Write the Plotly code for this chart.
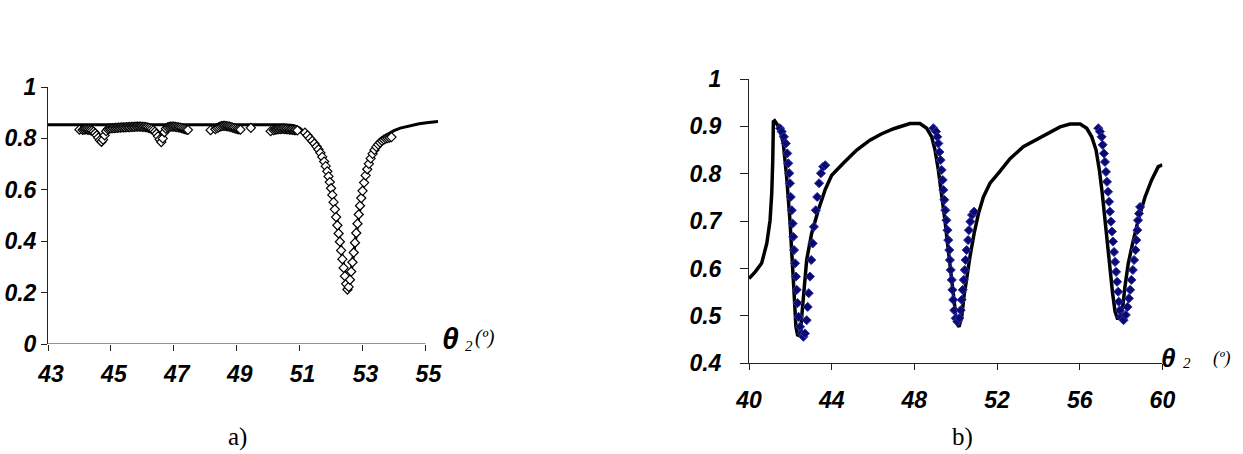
import plotly.graph_objects as go

# ---------------- Panel a) data ----------------
a_line_x = [43.0, 50.5, 50.8, 51.0, 51.2, 51.4, 51.6, 51.8, 51.95, 52.05, 52.15, 52.25, 52.35, 52.45,
            52.52, 52.6, 52.7, 52.8, 52.9, 53.0, 53.1, 53.2, 53.3, 53.45, 53.6, 53.8, 54.0, 54.2,
            54.5, 54.8, 55.1, 55.4]
a_line_y = [0.853, 0.853, 0.850, 0.840, 0.818, 0.792, 0.762, 0.712, 0.656, 0.594, 0.520, 0.434,
            0.346, 0.264, 0.212, 0.250, 0.336, 0.430, 0.522, 0.598, 0.658, 0.704, 0.740, 0.775,
            0.798, 0.816, 0.830, 0.840, 0.850, 0.857, 0.862, 0.866]

a_seg1_x = [44.00, 44.10, 44.15, 44.20, 44.25, 44.30, 44.35, 44.40, 44.45, 44.50, 44.55, 44.60,
            44.65, 44.70, 44.75, 44.80, 44.85, 44.90, 44.95, 45.00, 45.05, 45.10, 45.15, 45.20,
            45.25, 45.30, 45.35, 45.40, 45.45, 45.50, 45.55, 45.60, 45.65, 45.70, 45.75, 45.80,
            45.85, 45.90, 45.95, 46.00, 46.05, 46.10, 46.15, 46.20, 46.25, 46.30, 46.35, 46.40,
            46.45, 46.50, 46.55, 46.60, 46.65, 46.70, 46.75, 46.80, 46.85, 46.90, 46.95, 47.00,
            47.05, 47.10, 47.15, 47.20, 47.25, 47.30, 47.35, 47.40, 47.45]
a_seg1_y = [0.834, 0.833, 0.834, 0.835, 0.834, 0.833, 0.832, 0.830, 0.826, 0.820, 0.812, 0.803,
            0.793, 0.787, 0.795, 0.812, 0.828, 0.836, 0.838, 0.839, 0.840, 0.840, 0.841, 0.841,
            0.842, 0.842, 0.843, 0.843, 0.843, 0.844, 0.844, 0.844, 0.845, 0.845, 0.845, 0.846,
            0.846, 0.846, 0.846, 0.845, 0.845, 0.844, 0.843, 0.841, 0.839, 0.836, 0.832, 0.826,
            0.818, 0.808, 0.796, 0.786, 0.800, 0.824, 0.838, 0.843, 0.845, 0.846, 0.846, 0.846,
            0.845, 0.844, 0.843, 0.842, 0.840, 0.838, 0.836, 0.834, 0.833]

a_seg2_x = [48.17, 48.32, 48.37, 48.42, 48.47, 48.52, 48.57, 48.62, 48.67, 48.72, 48.77, 48.82,
            48.87, 48.92, 48.97, 49.02, 49.07, 49.12, 49.45]
a_seg2_y = [0.832, 0.836, 0.840, 0.843, 0.846, 0.848, 0.849, 0.849, 0.848, 0.847, 0.846, 0.844,
            0.842, 0.840, 0.838, 0.836, 0.835, 0.834, 0.841]

a_seg3_x = [50.08, 50.18, 50.23, 50.28, 50.33, 50.38, 50.43, 50.48, 50.53, 50.58, 50.63, 50.68,
            50.73, 50.78, 50.83, 50.88, 50.93]
a_seg3_y = [0.828, 0.832, 0.834, 0.835, 0.836, 0.836, 0.837, 0.837, 0.836, 0.836, 0.835, 0.834,
            0.834, 0.833, 0.832, 0.832, 0.831]

a_dip_x = [51.17, 51.25, 51.33, 51.40, 51.47, 51.54, 51.60, 51.66, 51.72, 51.78, 51.83, 51.88,
           51.92, 51.96, 52.00, 52.04, 52.08, 52.12, 52.16, 52.20, 52.24, 52.28, 52.32, 52.36,
           52.40, 52.44, 52.48, 52.52, 52.56, 52.60, 52.64, 52.68, 52.72, 52.76, 52.80, 52.84,
           52.88, 52.92, 52.96, 53.00, 53.05, 53.10, 53.15, 53.20, 53.26, 53.32, 53.38, 53.44,
           53.50, 53.56, 53.62, 53.68, 53.74, 53.80, 53.86, 53.92]
a_dip_y = [0.822, 0.812, 0.800, 0.790, 0.780, 0.768, 0.757, 0.744, 0.728, 0.710, 0.692, 0.672,
           0.652, 0.630, 0.606, 0.580, 0.552, 0.524, 0.494, 0.462, 0.430, 0.398, 0.364, 0.330,
           0.296, 0.264, 0.234, 0.212, 0.222, 0.250, 0.282, 0.318, 0.356, 0.394, 0.432, 0.468,
           0.504, 0.538, 0.568, 0.596, 0.628, 0.656, 0.680, 0.701, 0.722, 0.740, 0.755, 0.767,
           0.776, 0.784, 0.790, 0.795, 0.799, 0.801, 0.803, 0.805]

a_xticks = [43, 45, 47, 49, 51, 53, 55]
a_yticks = [0, 0.2, 0.4, 0.6, 0.8, 1]
a_ytext = ["0", "0.2", "0.4", "0.6", "0.8", "1"]

# ---------------- Panel b) data ----------------
b_line_x = [40.00, 40.30, 40.61, 40.86, 41.02, 41.10, 41.15, 41.18, 41.24, 41.31, 41.47, 41.66,
            41.82, 41.98, 42.11, 42.19, 42.27, 42.35, 42.47, 42.55, 42.66, 42.79, 43.03, 43.35,
            43.68, 44.00, 44.56, 45.21, 45.85, 46.40, 47.00, 47.31, 47.79, 48.27, 48.60, 48.84,
            49.00, 49.16, 49.32, 49.48, 49.64, 49.81, 49.93, 50.05, 50.16, 50.29, 50.40, 50.53,
            50.69, 50.89, 51.10, 51.34, 51.66, 52.06, 52.63, 53.27, 54.20, 55.05, 55.53, 56.02,
            56.34, 56.58, 56.79, 56.95, 57.09, 57.22, 57.35, 57.46, 57.59, 57.71, 57.82, 57.95,
            58.08, 58.19, 58.35, 58.56, 58.83, 59.16, 59.48, 59.80, 60.00]
b_line_y = [0.579, 0.593, 0.611, 0.653, 0.702, 0.759, 0.829, 0.910, 0.912, 0.908, 0.897, 0.864,
            0.794, 0.702, 0.618, 0.541, 0.477, 0.460, 0.458, 0.498, 0.562, 0.618, 0.674, 0.723,
            0.766, 0.797, 0.822, 0.850, 0.871, 0.884, 0.895, 0.899, 0.906, 0.906, 0.896, 0.878,
            0.850, 0.808, 0.759, 0.702, 0.639, 0.576, 0.519, 0.484, 0.477, 0.498, 0.541, 0.583,
            0.625, 0.674, 0.716, 0.751, 0.780, 0.801, 0.832, 0.857, 0.880, 0.899, 0.905, 0.905,
            0.896, 0.878, 0.850, 0.808, 0.759, 0.702, 0.646, 0.597, 0.548, 0.509, 0.495, 0.495,
            0.519, 0.562, 0.611, 0.653, 0.702, 0.751, 0.787, 0.815, 0.819]

b_dip1_x = [41.50, 41.58, 41.69, 41.78, 41.85, 41.90, 41.95, 41.98, 42.02, 42.07, 42.11, 42.14,
            42.18, 42.23, 42.27, 42.31, 42.35, 42.40, 42.47, 42.55, 42.63, 42.71, 42.79, 42.84,
            42.89, 42.95, 43.01, 43.08, 43.14, 43.23, 43.30, 43.39, 43.48, 43.59, 43.69]
b_dip1_y = [0.896, 0.889, 0.878, 0.864, 0.843, 0.822, 0.801, 0.780, 0.751, 0.723, 0.695, 0.667,
            0.639, 0.611, 0.583, 0.555, 0.527, 0.498, 0.477, 0.463, 0.456, 0.463, 0.491, 0.519,
            0.548, 0.583, 0.618, 0.653, 0.688, 0.723, 0.751, 0.780, 0.801, 0.815, 0.818]

b_dip2_x = [48.92, 49.05, 49.11, 49.16, 49.21, 49.27, 49.32, 49.37, 49.40, 49.45, 49.50, 49.55,
            49.60, 49.64, 49.69, 49.72, 49.76, 49.81, 49.84, 49.88, 49.93, 50.00, 50.08, 50.18,
            50.24, 50.29, 50.34, 50.39, 50.44, 50.48, 50.53, 50.60, 50.64, 50.71, 50.79, 50.89]
b_dip2_y = [0.896, 0.889, 0.878, 0.864, 0.846, 0.829, 0.808, 0.787, 0.766, 0.745, 0.723, 0.702,
            0.681, 0.660, 0.639, 0.618, 0.597, 0.576, 0.555, 0.534, 0.512, 0.495, 0.488, 0.495,
            0.512, 0.534, 0.555, 0.576, 0.597, 0.618, 0.639, 0.660, 0.681, 0.699, 0.713, 0.720]

b_dip3_x = [56.90, 56.98, 57.06, 57.11, 57.17, 57.22, 57.27, 57.32, 57.37, 57.42, 57.46, 57.51,
            57.56, 57.61, 57.66, 57.71, 57.76, 57.81, 57.86, 57.89, 57.94, 58.00, 58.12, 58.23,
            58.31, 58.38, 58.44, 58.50, 58.57, 58.63, 58.70, 58.74, 58.79, 58.82, 58.87, 58.92]
b_dip3_y = [0.896, 0.889, 0.878, 0.861, 0.843, 0.825, 0.804, 0.783, 0.762, 0.741, 0.720, 0.699,
            0.678, 0.657, 0.635, 0.614, 0.593, 0.572, 0.551, 0.530, 0.512, 0.498, 0.491, 0.502,
            0.519, 0.537, 0.555, 0.576, 0.597, 0.618, 0.639, 0.660, 0.681, 0.702, 0.716, 0.730]

b_xticks = [40, 44, 48, 52, 56, 60]
b_yticks = [0.4, 0.5, 0.6, 0.7, 0.8, 0.9, 1.0]
b_ytext = ["0.4", "0.5", "0.6", "0.7", "0.8", "0.9", "1"]

# ---------------- Figure ----------------
W, H = 1243, 454


def px(x):
    return x / W


def py(y):
    return (H - y) / H


SANS = "Liberation Sans, Arial, sans-serif"
SERIF = "Liberation Serif, Times New Roman, serif"
FONT_T = dict(family=SANS, size=23, color="black", weight="bold", style="italic")
AXC = "#222222"

fig = go.Figure()

fig.add_trace(go.Scatter(x=a_line_x, y=a_line_y, mode="lines",
                         line=dict(color="black", width=3), xaxis="x", yaxis="y",
                         hoverinfo="skip"))
fig.add_trace(go.Scatter(x=a_seg1_x + a_seg2_x + a_seg3_x + a_dip_x,
                         y=a_seg1_y + a_seg2_y + a_seg3_y + a_dip_y,
                         mode="markers", xaxis="x", yaxis="y",
                         marker=dict(symbol="diamond", size=7, color="white",
                                     line=dict(color="black", width=1.2))))

fig.add_trace(go.Scatter(x=b_line_x, y=b_line_y, mode="lines",
                         line=dict(color="black", width=3.5), xaxis="x2", yaxis="y2",
                         hoverinfo="skip"))
fig.add_trace(go.Scatter(x=b_dip1_x + b_dip2_x + b_dip3_x,
                         y=b_dip1_y + b_dip2_y + b_dip3_y,
                         mode="markers", xaxis="x2", yaxis="y2",
                         marker=dict(symbol="diamond", size=7, color="#0a0a6e",
                                     line=dict(color="#2f2fae", width=1))))

common = dict(showgrid=False, zeroline=False, ticks="outside", tickcolor=AXC,
              tickwidth=1, linecolor=AXC, linewidth=1, automargin=False, tickfont=FONT_T)

fig.update_layout(
    width=W, height=H,
    margin=dict(l=0, r=0, t=0, b=0),
    paper_bgcolor="white", plot_bgcolor="white",
    showlegend=False,
    xaxis=dict(domain=[px(48), px(438)], range=[43, 55.4], tickvals=a_xticks,
               showline=False, ticklen=6, anchor="y", ticklabelstandoff=3,
               ticklabelshift=3, **common),
    yaxis=dict(domain=[py(344), py(87)], range=[0, 1], tickvals=a_yticks, ticktext=a_ytext,
               showline=True, ticklen=6, anchor="x", ticklabelstandoff=0, **common),
    xaxis2=dict(domain=[px(749), px(1162.4)], range=[40, 60], tickvals=b_xticks,
                showline=True, ticklen=6, anchor="y2", ticklabelstandoff=10, **common),
    yaxis2=dict(domain=[py(363.3), py(79)], range=[0.4, 1], tickvals=b_yticks,
                ticktext=b_ytext, showline=True, ticklen=8, anchor="x2",
                ticklabelstandoff=14, **common),
)

# x-axis line of panel a) spans only 43..55 while the curve continues beyond
fig.add_shape(type="line", xref="x", yref="y", x0=43, x1=55, y0=0, y1=0,
              line=dict(color=AXC, width=1))


def label(text, x, y, font, anchor="left"):
    fig.add_annotation(text=text, xref="paper", yref="paper", x=px(x), y=py(y),
                       xanchor=anchor, yanchor="middle", showarrow=False, font=font)


# axis titles: θ2 (º)
label("θ", 440, 339, dict(family=SANS, size=30, color="black", weight="bold", style="italic"))
label("2", 463, 346, dict(family=SERIF, size=15, color="black", style="italic"))
label("(º)", 473, 337, dict(family=SERIF, size=20, color="black", style="italic"))

label("θ", 1159, 358, dict(family=SANS, size=26, color="black", weight="bold", style="italic"))
label("2", 1181, 363, dict(family=SERIF, size=15, color="black", style="italic"))
label("(º)", 1211, 358, dict(family=SERIF, size=18, color="black", style="italic"))

# panel captions
label("a)", 237, 437, dict(family=SERIF, size=25, color="black"), anchor="center")
label("b)", 962, 437, dict(family=SERIF, size=25, color="black"), anchor="center")

# remove the default 8px page margin so the figure fills the window exactly
fig.write_html("out.html", config={"displayModeBar": False},
               post_script="document.body.style.margin='0px';document.body.style.overflow='hidden';")
